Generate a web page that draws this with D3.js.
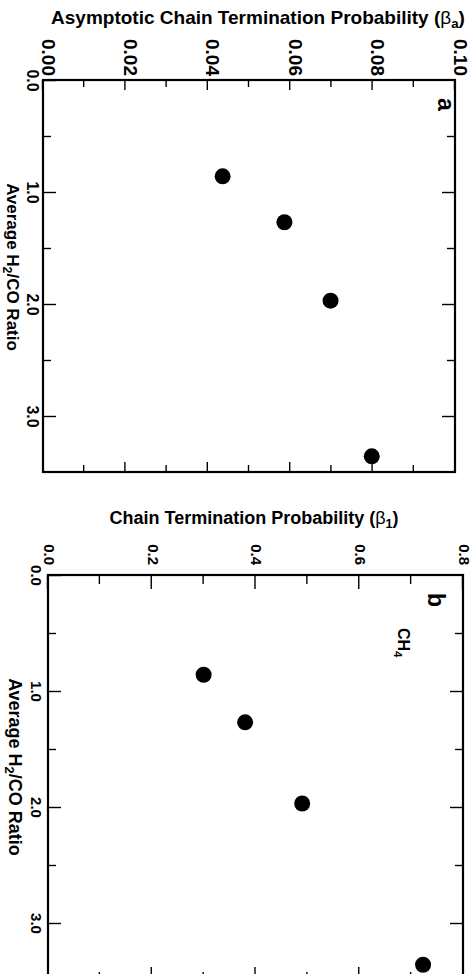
<!DOCTYPE html>
<html>
<head>
<meta charset="utf-8">
<script src="https://cdn.jsdelivr.net/npm/d3@7"></script>
<style>
  body { margin: 0; background: #fff; }
  svg { display: block; font-family: "Liberation Sans", Arial, Helvetica, sans-serif; font-weight: bold; }
  .tick line { stroke: #000; stroke-width: 1.4; }
  .tick text { fill: #000; }
</style>
</head>
<body>
<svg id="chart" width="476" height="974"></svg>
<script>
// H2/CO ratio for each run (shared by both panels)
const ratios = [0.86, 1.27, 1.97, 3.36];
// panel a: asymptotic chain termination probability
const betaA = [0.0436, 0.0586, 0.0698, 0.0798];
// panel b: chain termination probability for CH4
const beta1 = [0.30, 0.38, 0.49, 0.723];

const ratioTicks = [0, 1, 2, 3];
const ratioMinor = [0.5, 1.5, 2.5];
const betaATicks = [0, 0.02, 0.04, 0.06, 0.08, 0.10];
const betaAMinor = [0.01, 0.03, 0.05, 0.07, 0.09];
const beta1Ticks = [0, 0.2, 0.4, 0.6, 0.8];
const beta1Minor = [0.1, 0.3, 0.5, 0.7];

const svg = d3.select('#chart');

// The figure is printed rotated 90deg clockwise, so each panel is drawn
// in its normal orientation and then turned.
function drawPanel(cfg) {
    const W = cfg.w, H = cfg.h;
    const g = svg.append('g')
        .attr('transform', `translate(${cfg.right},${cfg.top}) rotate(90)`);

    const x = d3.scaleLinear().domain([0, 3.5]).range([0, W]);
    const y = d3.scaleLinear().domain(cfg.yDomain).range([H, 0]);

    const clean = sel => sel.select('.domain').remove();

    // ratio axis (bottom = screen left, top = screen right)
    g.append('g').attr('transform', `translate(0,${H})`)
        .call(d3.axisBottom(x).tickValues(ratioTicks).tickSize(-13)
            .tickPadding(cfg.xPad).tickFormat(d3.format('.1f')))
        .call(clean)
        .selectAll('text').style('font-size', cfg.xFont + 'px');
    g.append('g').attr('transform', `translate(0,${H})`)
        .call(d3.axisBottom(x).tickValues(ratioMinor).tickSize(-8).tickFormat(''))
        .call(clean);
    g.append('g')
        .call(d3.axisTop(x).tickValues(ratioTicks.slice(1)).tickSize(-13).tickFormat(''))
        .call(clean);
    g.append('g')
        .call(d3.axisTop(x).tickValues(ratioMinor).tickSize(-8).tickFormat(''))
        .call(clean);

    // probability axis (left = screen top, right = screen bottom)
    g.append('g')
        .call(d3.axisLeft(y).tickValues(cfg.yTicks).tickSize(-cfg.yMajor)
            .tickPadding(cfg.yPad).tickFormat(d3.format(cfg.yFmt)))
        .call(clean)
        .selectAll('text')
        .attr('dy', cfg.yDy)
        .style('font-size', cfg.yFont + 'px');
    g.append('g')
        .call(d3.axisLeft(y).tickValues(cfg.yMinor).tickSize(-cfg.yMinorLen).tickFormat(''))
        .call(clean);
    g.append('g').attr('transform', `translate(${W},0)`)
        .call(d3.axisRight(y).tickValues(cfg.yTicks.slice(1, -1)).tickSize(-cfg.yMajor).tickFormat(''))
        .call(clean);
    g.append('g').attr('transform', `translate(${W},0)`)
        .call(d3.axisRight(y).tickValues(cfg.yMinor).tickSize(-cfg.yMinorLen).tickFormat(''))
        .call(clean);

    g.append('rect')
        .attr('width', W).attr('height', H)
        .attr('fill', 'none').attr('stroke', '#000').attr('stroke-width', 2.2);

    // ratio axis title
    const xt = g.append('text')
        .attr('x', cfg.xTitleX).attr('y', cfg.xTitleY)
        .attr('text-anchor', 'middle')
        .style('font-size', cfg.xTitleFont + 'px');
    xt.append('tspan').text('Average H');
    xt.append('tspan').attr('dy', 4).style('font-size', '0.72em').text('2');
    xt.append('tspan').attr('dy', -4).text('/CO Ratio');

    // panel letter
    g.append('text')
        .attr('x', cfg.letterX).attr('y', cfg.letterY)
        .style('font-size', '23px')
        .text(cfg.letter);

    if (cfg.species) {
        const sp = g.append('text')
            .attr('x', cfg.speciesX).attr('y', cfg.speciesY)
            .style('font-size', '16px');
        sp.append('tspan').text('CH');
        sp.append('tspan').attr('dy', 4).style('font-size', '0.7em').text('4');
    }

    g.selectAll('circle.pt')
        .data(cfg.values)
        .join('circle')
        .attr('class', 'pt')
        .attr('cx', (d, i) => x(ratios[i]))
        .attr('cy', d => y(d))
        .attr('r', 8)
        .attr('fill', '#000');

    // probability axis title, drawn in screen orientation
    const yt = svg.append('text')
        .attr('x', cfg.titleX).attr('y', cfg.titleY)
        .attr('text-anchor', 'middle')
        .style('font-size', cfg.titleFont + 'px');
    yt.append('tspan').text(cfg.title);
    yt.append('tspan').style('font-weight', 'normal').text('β');
    yt.append('tspan').attr('dy', 4).style('font-size', '0.7em').text(cfg.sub);
    yt.append('tspan').attr('dy', -4).text(')');
}

drawPanel({
    right: 455, top: 80, w: 392, h: 412,
    yDomain: [0, 0.10], yTicks: betaATicks, yMinor: betaAMinor, yFmt: '.2f',
    yMajor: 10, yMinorLen: 7, yPad: 4, yFont: 19, yDy: '0.05em',
    xPad: 5, xFont: 16,
    xTitleX: 187, xTitleY: 448, xTitleFont: 17,
    letter: 'a', letterX: 18, letterY: 17,
    values: betaA,
    title: 'Asymptotic Chain Termination Probability (', sub: 'a',
    titleX: 258, titleY: 24, titleFont: 19
});

drawPanel({
    right: 463, top: 575, w: 406, h: 415,
    yDomain: [0, 0.8], yTicks: beta1Ticks, yMinor: beta1Minor, yFmt: '.1f',
    yMajor: 14, yMinorLen: 9, yPad: 10, yFont: 15, yDy: '0.25em',
    xPad: 6, xFont: 15,
    xTitleX: 192, xTitleY: 454, xTitleFont: 18,
    letter: 'b', letterX: 18, letterY: 35,
    species: true, speciesX: 53, speciesY: 65,
    values: beta1,
    title: 'Chain Termination Probability (', sub: '1',
    titleX: 254, titleY: 524, titleFont: 18
});
</script>
</body>
</html>
